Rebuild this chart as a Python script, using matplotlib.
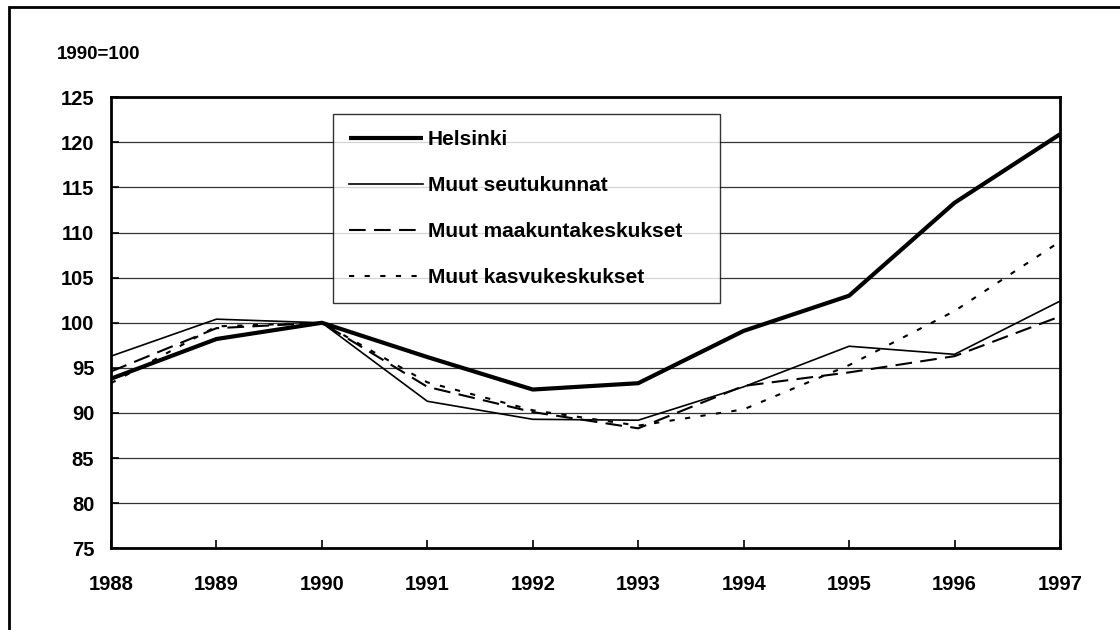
import numpy as np
import matplotlib.pyplot as plt
from matplotlib.patches import Rectangle

#==============================================================================
# data (1990 = 100)
#==============================================================================
years = [1988, 1989, 1990, 1991, 1992, 1993, 1994, 1995, 1996, 1997]

helsinki    = [93.8, 98.2, 100.0, 96.2, 92.6, 93.3, 99.1, 103.0, 113.3, 120.9]
seutukunnat = [96.3, 100.4, 100.0, 91.3, 89.3, 89.2, 92.9, 97.4, 96.5, 102.4]
maakunta    = [94.6, 99.4, 100.0, 92.9, 90.1, 88.3, 93.0, 94.5, 96.3, 100.7]
kasvu       = [93.3, 99.6, 100.0, 93.4, 90.3, 88.6, 90.4, 95.3, 101.3, 109.0]

labels = ['Helsinki', 'Muut seutukunnat', 'Muut maakuntakeskukset',
          'Muut kasvukeskukset']

y_ticks = list(range(75, 126, 5))

#==============================================================================
# plot settings
#==============================================================================
plt.rcParams['font.family'] = ['Liberation Sans', 'DejaVu Sans']
plt.rcParams['font.weight'] = 'bold'

style_hel  = {'lw': 3.0, 'ls': '-',  'color': 'k', 'solid_capstyle': 'butt'}
style_seu  = {'lw': 1.2, 'ls': '-',  'color': 'k'}
style_maa  = {'lw': 1.5, 'ls': (0, (8, 4)), 'color': 'k'}
style_kas  = {'lw': 1.5, 'ls': (0, (2.5, 5)), 'color': 'k'}

#==============================================================================
# figure
#==============================================================================
fig = plt.figure(figsize=(11.2, 6.3), dpi=100)
ax = fig.add_axes([0.0991, 0.1297, 0.8473, 0.7159])

ax.plot(years, helsinki, label=labels[0], **style_hel)
ax.plot(years, seutukunnat, label=labels[1], **style_seu)
ax.plot(years, maakunta, label=labels[2], **style_maa)
ax.plot(years, kasvu, label=labels[3], **style_kas)

ax.set_xlim(years[0], years[-1])
ax.set_ylim(75, 125)
ax.set_xticks(years)
ax.set_yticks(y_ticks)

ax.yaxis.grid(True, color='#333333', lw=0.9)
ax.set_axisbelow(True)

for sp in ax.spines.values():
    sp.set_linewidth(2.0)
    sp.set_color('k')

ax.tick_params(axis='x', direction='in', length=6, width=1.2, pad=19,
               labelsize=14.5)
ax.tick_params(axis='y', direction='in', length=6, width=1.2, pad=12,
               labelsize=14.5)
for lab in ax.get_xticklabels() + ax.get_yticklabels():
    lab.set_fontweight('bold')

leg = ax.legend(loc='upper left', bbox_to_anchor=(0.234, 0.962, 0.4078, 0.0),
                mode='expand', frameon=True, fancybox=False, shadow=False,
                fontsize=15, handlelength=3.55, handletextpad=0.25,
                labelspacing=1.3, borderpad=0.75, borderaxespad=0)
leg.get_frame().set_edgecolor('k')
leg.get_frame().set_linewidth(1.0)
for t in leg.get_texts():
    t.set_fontweight('bold')

fig.text(0.051, 0.914, '1990=100', fontsize=13.5, fontweight='bold',
         va='center', ha='left')

# outer frame of the original picture
fig.add_artist(Rectangle((9 / 1120, -0.1), 1.2, 1.1 - 7 / 630,
                         transform=fig.transFigure, fill=False,
                         lw=2.0, ec='k', clip_on=False))

fig.savefig('out.png', dpi=100)
